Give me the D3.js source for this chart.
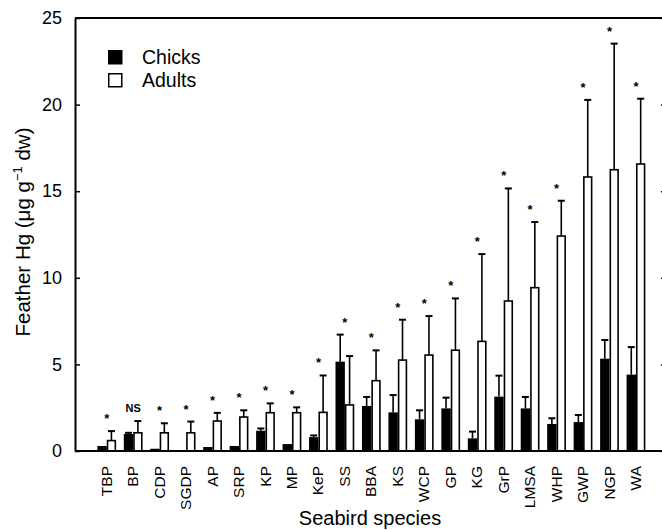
<!DOCTYPE html>
<html>
<head>
<meta charset="utf-8">
<script src="https://cdn.jsdelivr.net/npm/d3@7"></script>
<style>
  body { margin: 0; background: #fff; }
  text { font-family: "Liberation Sans", Arial, sans-serif; fill: #000; }
</style>
</head>
<body>
<div id="chart"></div>
<script>
const species = ["TBP", "BP", "CDP", "SGDP", "AP", "SRP", "KP", "MP", "KeP", "SS", "BBA",
  "KS", "WCP", "GP", "KG", "GrP", "LMSA", "WHP", "GWP", "NGP", "WA"];

// mean feather Hg and upper error (mean + SD)
const chicks    = [0.29, 0.98, 0.13, 0.03, 0.23, 0.29, 1.17, 0.40, 0.80, 5.16, 2.60,
  2.23, 1.83, 2.46, 0.73, 3.14, 2.46, 1.56, 1.67, 5.33, 4.41];
const chicksErr = [0.29, 1.05, 0.13, 0.03, 0.23, 0.29, 1.30, 0.40, 0.90, 6.72, 3.12,
  3.23, 2.35, 3.08, 1.12, 4.35, 3.12, 1.89, 2.08, 6.41, 6.00];
const adults    = [0.60, 1.05, 1.05, 1.05, 1.73, 1.96, 2.21, 2.21, 2.23, 2.66, 4.06,
  5.25, 5.54, 5.82, 6.33, 8.66, 9.43, 12.41, 15.82, 16.24, 16.57];
const adultsErr = [1.15, 1.73, 1.60, 1.70, 2.20, 2.35, 2.75, 2.52, 4.36, 5.48, 5.81,
  7.58, 7.79, 8.81, 11.37, 15.16, 13.22, 14.45, 20.27, 23.52, 20.34];
const signif = ["*", "NS", "*", "*", "*", "*", "*", "*", "*", "*", "*",
  "*", "*", "*", "*", "*", "*", "*", "*", "*", "*"];
const yTicks = [0, 5, 10, 15, 20, 25];

const W = 662, H = 530;
const mLeft = 75, mRight = 666, mTop = 18, mBottom = 451;

const svg = d3.select("#chart").append("svg")
  .attr("width", W)
  .attr("height", H);

const x = d3.scaleBand()
  .domain(species)
  .range([93.5, 649.2])
  .paddingInner(0.29)
  .paddingOuter(0.145);

const x1 = d3.scaleBand()
  .domain(["chick", "adult"])
  .range([0, x.bandwidth()]);

const y = d3.scaleLinear()
  .domain([0, 25])
  .range([mBottom, mTop]);

const rows = species.map((s, i) => ({
  s, chick: chicks[i], chickErr: chicksErr[i], adult: adults[i], adultErr: adultsErr[i], sig: signif[i]
}));

// error bars (drawn under bars so they start at the bar top)
const capW = 7;
const errs = [];
rows.forEach(d => {
  errs.push({ s: d.s, k: "chick", v: d.chick, e: d.chickErr });
  errs.push({ s: d.s, k: "adult", v: d.adult, e: d.adultErr });
});

const eg = svg.append("g");
errs.filter(d => d.e > d.v + 0.02).forEach(d => {
  const cx = x(d.s) + x1(d.k) + x1.bandwidth() / 2;
  eg.append("line")
    .attr("x1", cx).attr("x2", cx)
    .attr("y1", y(d.v)).attr("y2", y(d.e))
    .attr("stroke", "#000").attr("stroke-width", 1.6);
  eg.append("line")
    .attr("x1", cx - capW / 2).attr("x2", cx + capW / 2)
    .attr("y1", y(d.e)).attr("y2", y(d.e))
    .attr("stroke", "#000").attr("stroke-width", 2);
});

// bars
const bg = svg.append("g");
bg.selectAll("rect.chick")
  .data(rows)
  .join("rect")
  .attr("class", "chick")
  .attr("x", d => x(d.s) + x1("chick"))
  .attr("y", d => y(d.chick))
  .attr("width", x1.bandwidth())
  .attr("height", d => y(0) - y(d.chick))
  .attr("fill", "#000");

bg.selectAll("rect.adult")
  .data(rows)
  .join("rect")
  .attr("class", "adult")
  .attr("x", d => x(d.s) + x1("adult") + 0.8)
  .attr("y", d => y(d.adult))
  .attr("width", x1.bandwidth() - 1.6)
  .attr("height", d => y(0) - y(d.adult))
  .attr("fill", "#fff")
  .attr("stroke", "#000")
  .attr("stroke-width", 1.6);

// significance markers
svg.append("g").selectAll("text")
  .data(rows)
  .join("text")
  .attr("x", d => x(d.s) + x.bandwidth() / 2)
  .attr("y", d => y(Math.max(d.chickErr, d.adultErr)) - (d.sig === "NS" ? 9 : 8))
  .attr("text-anchor", "middle")
  .attr("font-size", d => d.sig === "NS" ? 11 : 13)
  .attr("font-weight", "bold")
  .text(d => d.sig);

// frame
svg.append("line").attr("x1", mLeft).attr("x2", mRight).attr("y1", mTop).attr("y2", mTop)
  .attr("stroke", "#000").attr("stroke-width", 2);
svg.append("line").attr("x1", mRight).attr("x2", mRight).attr("y1", mTop).attr("y2", mBottom)
  .attr("stroke", "#000").attr("stroke-width", 2);

// y axis, inward ticks
const yAxis = svg.append("g")
  .attr("transform", `translate(${mLeft},0)`)
  .call(d3.axisLeft(y).tickValues(yTicks).tickSize(-5).tickPadding(13).tickSizeOuter(0));
yAxis.select(".domain").attr("stroke-width", 2);
yAxis.selectAll(".tick line").attr("stroke-width", 1.5);
yAxis.selectAll("text").attr("font-size", 18).attr("font-family", "Liberation Sans, Arial, sans-serif");

// right side ticks
svg.append("g")
  .attr("transform", `translate(${mRight},0)`)
  .call(d3.axisRight(y).tickValues(yTicks).tickSize(-5).tickFormat("").tickSizeOuter(0))
  .call(g => g.select(".domain").remove())
  .selectAll(".tick line").attr("stroke-width", 1.5);

// x axis
svg.append("line").attr("x1", mLeft).attr("x2", mRight).attr("y1", mBottom).attr("y2", mBottom)
  .attr("stroke", "#000").attr("stroke-width", 2);

svg.append("g").selectAll("text")
  .data(species)
  .join("text")
  .attr("transform", d => `translate(${x(d) + x.bandwidth() / 2 + 5},466) rotate(-90)`)
  .attr("text-anchor", "end")
  .attr("font-size", 15.5)
  .text(d => d);

// axis titles
svg.append("text")
  .attr("x", 370).attr("y", 525)
  .attr("text-anchor", "middle")
  .attr("font-size", 20)
  .text("Seabird species");

const yt = svg.append("text")
  .attr("transform", "translate(30,232) rotate(-90)")
  .attr("text-anchor", "middle")
  .attr("font-size", 20.5);
yt.append("tspan").text("Feather Hg (μg g");
yt.append("tspan").attr("dy", -8).attr("font-size", 13).text("−1");
yt.append("tspan").attr("dy", 8).text(" dw)");

// legend
const legend = [{ label: "Chicks", fill: "#000" }, { label: "Adults", fill: "#fff" }];
const lg = svg.append("g").attr("transform", "translate(108,50)");
legend.forEach((d, i) => {
  lg.append("rect")
    .attr("x", 0.75).attr("y", i * 23 + 0.75)
    .attr("width", 13).attr("height", 13)
    .attr("fill", d.fill).attr("stroke", "#000").attr("stroke-width", 1.5);
  lg.append("text")
    .attr("x", 34).attr("y", i * 23 + 14)
    .attr("font-size", 19.5)
    .text(d.label);
});
</script>
</body>
</html>
